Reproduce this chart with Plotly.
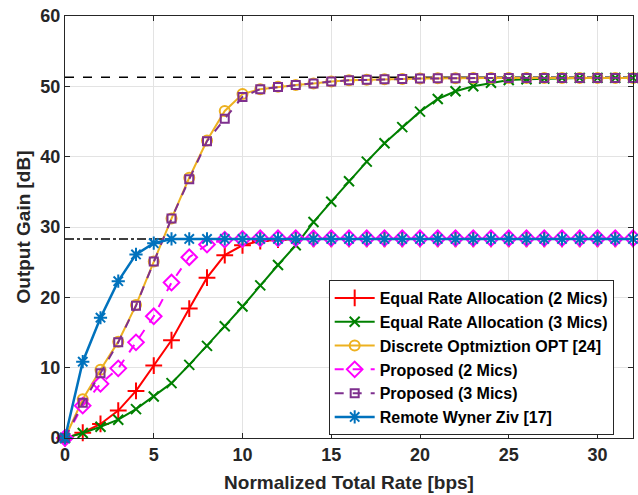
import plotly.graph_objects as go

rate = list(range(0, 33))

equal_2mics = [0, 0.75, 2.0, 3.9, 6.7, 10.3, 13.9, 18.4, 22.8, 26.0, 27.4, 28.0, 28.2,
               28.3, 28.3, 28.3, 28.3, 28.3, 28.3, 28.3, 28.3, 28.3, 28.3, 28.3, 28.3,
               28.3, 28.3, 28.3, 28.3, 28.3, 28.3, 28.3, 28.3]
equal_3mics = [0, 0.7, 1.6, 2.6, 4.1, 5.9, 7.8, 10.4, 13.1, 15.9, 18.7, 21.7, 24.6,
               27.4, 30.7, 33.6, 36.5, 39.3, 41.9, 44.2, 46.4, 48.2, 49.3, 50.0, 50.5,
               50.9, 51.0, 51.1, 51.2, 51.2, 51.2, 51.2, 51.2]
discrete_opt = [0, 5.5, 9.7, 13.7, 18.9, 25.1, 31.2, 37.0, 42.3, 46.5, 48.9, 49.6, 49.95,
                50.2, 50.4, 50.7, 50.85, 50.95, 51.0, 51.05, 51.1, 51.15, 51.15, 51.2, 51.2,
                51.2, 51.2, 51.2, 51.2, 51.2, 51.2, 51.2, 51.2]
proposed_2mics = [0, 4.6, 7.7, 9.9, 13.6, 17.3, 22.1, 25.7, 27.5, 28.2, 28.3, 28.4, 28.4,
                  28.4, 28.4, 28.4, 28.4, 28.4, 28.4, 28.4, 28.4, 28.4, 28.4, 28.4, 28.4,
                  28.4, 28.4, 28.4, 28.4, 28.4, 28.4, 28.4, 28.4]
proposed_3mics = [0, 5.0, 9.2, 13.6, 18.8, 25.1, 31.2, 36.8, 42.2, 45.4, 48.5, 49.6, 49.9,
                  50.2, 50.4, 50.7, 50.85, 50.95, 51.0, 51.05, 51.1, 51.15, 51.15, 51.2, 51.2,
                  51.2, 51.2, 51.2, 51.2, 51.2, 51.2, 51.2, 51.2]
remote_wz = [0, 10.85, 17.1, 22.3, 26.1, 27.7, 28.3, 28.3, 28.3, 28.3, 28.3, 28.3, 28.3,
             28.3, 28.3, 28.3, 28.3, 28.3, 28.3, 28.3, 28.3, 28.3, 28.3, 28.3, 28.3,
             28.3, 28.3, 28.3, 28.3, 28.3, 28.3, 28.3, 28.3]

bound_3mics = 51.3
bound_2mics = 28.3
x_span = [0, 32]

x_ticks = [0, 5, 10, 15, 20, 25, 30]
y_ticks = [0, 10, 20, 30, 40, 50, 60]

FONT = "Liberation Sans"
INK = "#262626"

fig = go.Figure()

fig.add_trace(go.Scatter(x=x_span, y=[bound_3mics] * 2, mode="lines", showlegend=False,
                         line=dict(color="black", width=1.5, dash="dash"), hoverinfo="skip"))
fig.add_trace(go.Scatter(x=x_span, y=[bound_2mics] * 2, mode="lines", showlegend=False,
                         line=dict(color="black", width=1.5, dash="dashdot"), hoverinfo="skip"))

series = [
    ("Equal Rate Allocation (2 Mics)", equal_2mics, "#FF0000", "cross-thin-open", 12, "solid", 2),
    ("Equal Rate Allocation (3 Mics)", equal_3mics, "#008000", "x-thin-open", 10, "solid", 2),
    ("Discrete Optmiztion OPT [24]", discrete_opt, "#EDB120", "circle-open", 10, "solid", 2),
    ("Proposed (2 Mics)", proposed_2mics, "#FF00FF", "diamond-open", 12, "dash", 2),
    ("Proposed (3 Mics)", proposed_3mics, "#7E2F8E", "square-open", 8, "dash", 2),
    ("Remote Wyner Ziv [17]", remote_wz, "#0072BD", "asterisk-open", 11, "solid", 2.5),
]

for name, vals, color, sym, size, dash, lw in series:
    fig.add_trace(go.Scatter(
        x=rate, y=vals, name=name, mode="lines+markers", cliponaxis=False,
        line=dict(color=color, width=lw, dash=dash),
        marker=dict(symbol=sym, size=size, color=color, line=dict(color=color, width=2)),
    ))

axis_common = dict(
    showline=True, linecolor=INK, linewidth=1, mirror="ticks",
    ticks="inside", ticklen=5, tickcolor=INK,
    showgrid=True, gridcolor="#e3e3e3", gridwidth=1, zeroline=False,
    tickfont=dict(family=FONT, size=18, color=INK, weight="bold"),
    automargin=False,
)

fig.update_xaxes(range=[0, 32], tickvals=x_ticks,
                 title=dict(text="Normalized Total Rate [bps]", standoff=12,
                            font=dict(family=FONT, size=19, color=INK, weight="bold")),
                 **axis_common)
fig.update_yaxes(range=[0, 60], tickvals=y_ticks,
                 title=dict(text="Output Gain [dB]", standoff=4,
                            font=dict(family=FONT, size=19, color=INK, weight="bold")),
                 **axis_common)

fig.update_layout(
    width=638, height=495,
    margin=dict(l=65, r=5, t=16, b=57),
    paper_bgcolor="white", plot_bgcolor="white",
    font=dict(family=FONT, size=16, color=INK),
    legend=dict(x=0.966, xanchor="right", y=0.007, yanchor="bottom",
                bgcolor="white", bordercolor=INK, borderwidth=1,
                font=dict(family=FONT, size=16, color="black", weight="bold"),
                tracegroupgap=0, itemwidth=40),
)

fig.write_html("out.html", config={"displayModeBar": False},
               post_script="document.body.style.margin='0';")
